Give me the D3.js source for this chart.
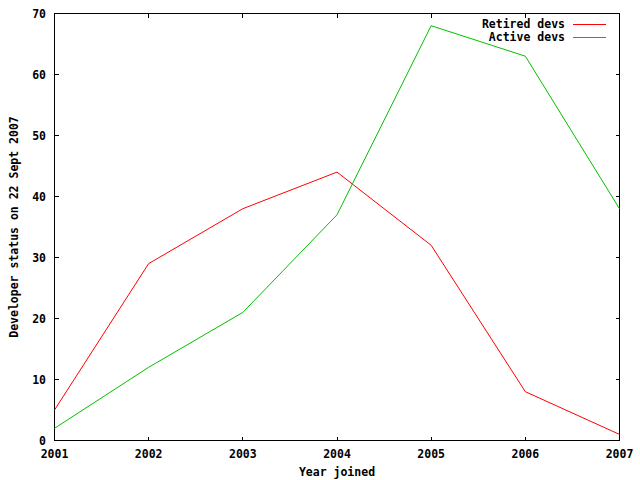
<!DOCTYPE html>
<html><head><meta charset="utf-8">
<script src="https://cdn.jsdelivr.net/npm/d3@7"></script>
<style>body{margin:0;background:#fff}svg{display:block}text{font-family:"DejaVu Sans Mono","Liberation Mono",monospace;font-weight:bold;font-size:11.5px;fill:#000}</style>
</head><body><svg id="c" width="640" height="480"></svg>
<script>
const years = [2001, 2002, 2003, 2004, 2005, 2006, 2007];
const retired = [5, 29, 38, 44, 32, 8, 1];
const active = [2, 12, 21, 37, 68, 63, 38];
const yTicks = [0, 10, 20, 30, 40, 50, 60, 70];
const seriesNames = ["Retired devs", "Active devs"];
const seriesColors = ["#ff0000", "#00c000"];

const svg = d3.select("#c");
const L = 54.5, R = 619.5, T = 13.5, B = 440.5;
const x = d3.scaleLinear().domain([2001, 2007]).range([L, R]);
const y = d3.scaleLinear().domain([0, 70]).range([B, T]);

// frame
svg.append("rect").attr("x", L).attr("y", T).attr("width", R - L).attr("height", B - T)
  .attr("fill", "none").attr("stroke", "#000").attr("stroke-width", 1).attr("shape-rendering", "crispEdges");

const g = svg.append("g").attr("shape-rendering", "crispEdges");
// x ticks (bottom and mirrored top)
years.forEach(v => {
  g.append("line").attr("x1", x(v)).attr("x2", x(v)).attr("y1", B).attr("y2", B - 4).attr("stroke", "#000");
  g.append("line").attr("x1", x(v)).attr("x2", x(v)).attr("y1", T).attr("y2", T + 4).attr("stroke", "#000");
  svg.append("text").attr("x", x(v)).attr("y", 458).attr("text-anchor", "middle").text(v);
});
yTicks.forEach(v => {
  g.append("line").attr("x1", L).attr("x2", L + 4).attr("y1", y(v)).attr("y2", y(v)).attr("stroke", "#000");
  g.append("line").attr("x1", R).attr("x2", R - 4).attr("y1", y(v)).attr("y2", y(v)).attr("stroke", "#000");
  svg.append("text").attr("x", 46).attr("y", y(v) + 4).attr("text-anchor", "end").text(v);
});

svg.append("text").attr("x", 337).attr("y", 476).attr("text-anchor", "middle").text("Year joined");
svg.append("text").attr("transform", "translate(18,227) rotate(-90)").attr("text-anchor", "middle").text("Developer status on 22 Sept 2007");

const line = d3.line().x((d, i) => x(years[i])).y(d => y(d));
[retired, active].forEach((s, k) => {
  svg.append("path").attr("d", line(s)).attr("fill", "none").attr("stroke", seriesColors[k]).attr("stroke-width", 1);
  const ly = 24 + k * 12.7;
  svg.append("text").attr("x", 565).attr("y", ly + 4).attr("text-anchor", "end").text(seriesNames[k]);
  svg.append("line").attr("x1", 573).attr("x2", 606).attr("y1", Math.round(ly) + 0.5).attr("y2", Math.round(ly) + 0.5)
    .attr("stroke", seriesColors[k]).attr("stroke-width", 1).attr("shape-rendering", "crispEdges");
});
</script></body></html>
